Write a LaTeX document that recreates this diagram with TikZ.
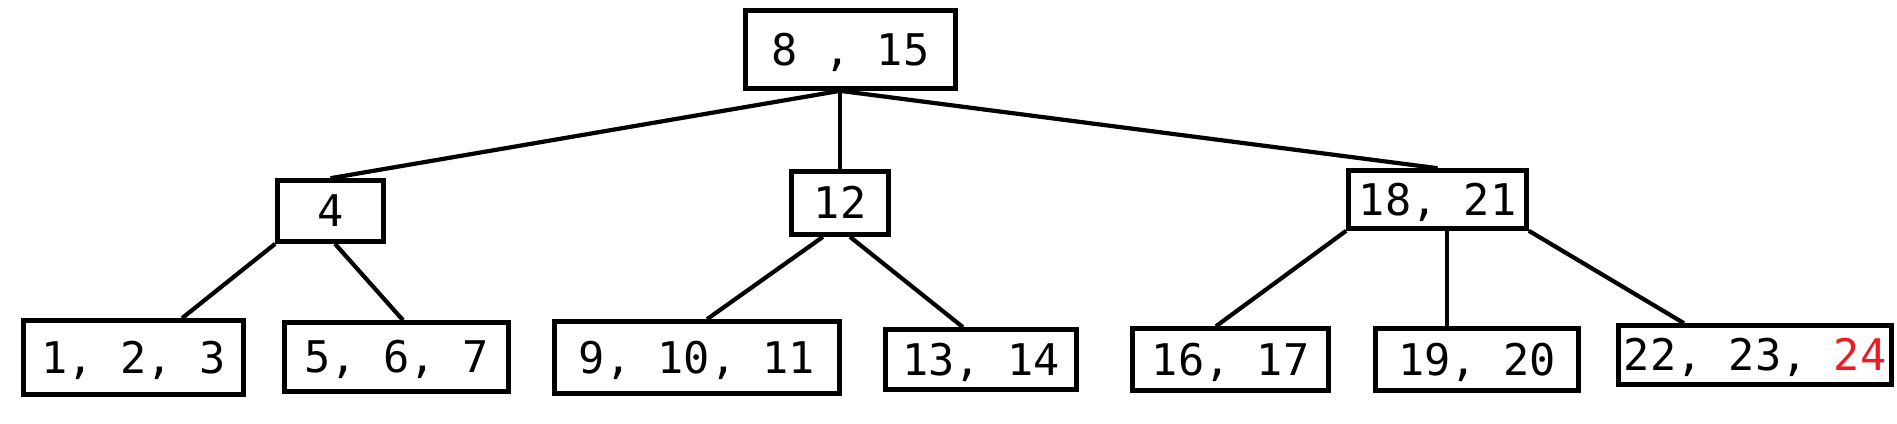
\documentclass[tikz,border=0pt]{standalone}
\usepackage{fontspec}
\usepackage{tikz}
\newfontfamily\keyfont{DejaVu Sans Mono}
\definecolor{paintred}{RGB}{237,28,36}

\tikzset{
    keybox/.style={draw, line width=1.3pt, inner sep=0pt, text height=0.318cm, text depth=0pt,
        font=\keyfont\fontsize{12.4}{14}\selectfont},
    link/.style={line width=1.2pt},
}

\begin{document}
\begin{tikzpicture}[x=0.01cm, y=-0.01cm]
    \useasboundingbox (0,0) rectangle (1897,423);
    % inner keys
    \node[keybox, minimum width=2.10cm, minimum height=0.78cm] (root) at (850.5,49.5) {8 , 15};
    \node[keybox, minimum width=1.06cm, minimum height=0.61cm] (n4) at (330.5,211) {4};
    \node[keybox, minimum width=0.97cm, minimum height=0.63cm] (n12) at (840,203) {12};
    \node[keybox, minimum width=1.78cm, minimum height=0.58cm] (n1821) at (1437.5,199.5) {18, 21};
    % leaves
    \node[keybox, minimum width=2.20cm, minimum height=0.74cm] (l123) at (133.5,357.5) {1, 2, 3};
    \node[keybox, minimum width=2.24cm, minimum height=0.69cm] (l567) at (396.5,357) {5, 6, 7};
    \node[keybox, minimum width=2.85cm, minimum height=0.72cm] (l91011) at (697,357.5) {9, 10, 11};
    \node[keybox, minimum width=1.91cm, minimum height=0.60cm] (l1314) at (981,359.5) {13, 14};
    \node[keybox, minimum width=1.96cm, minimum height=0.62cm] (l1617) at (1230.5,359.5) {16, 17};
    \node[keybox, minimum width=2.03cm, minimum height=0.62cm] (l1920) at (1477,359.5) {19, 20};
    \node[keybox, minimum width=2.73cm, minimum height=0.59cm] (l222324) at (1755,355) {22, 23, \textcolor{paintred}{24}};

    \coordinate (fork) at (root.south -| n12.north);
    \coordinate (mid) at ([xshift=0.095cm]n1821.south);

    \draw[link] (fork) -- (n4.north);
    \draw[link] (fork) -- (n12.north);
    \draw[link] (fork) -- (n1821.north);

    \draw[link] (n4.south west) -- ([xshift=0.485cm]l123.north);
    \draw[link] ([xshift=0.045cm]n4.south) -- ([xshift=0.065cm]l567.north);
    \draw[link] ([xshift=-0.17cm]n12.south) -- ([xshift=0.1cm]l91011.north);
    \draw[link] ([xshift=0.1cm]n12.south) -- ([xshift=-0.18cm]l1314.north);
    \draw[link] (n1821.south west) -- ([xshift=-0.145cm]l1617.north);
    \draw[link] (mid) -- (mid |- l1920.north);
    \draw[link] (n1821.south east) -- ([xshift=-0.71cm]l222324.north);
\end{tikzpicture}
\end{document}
